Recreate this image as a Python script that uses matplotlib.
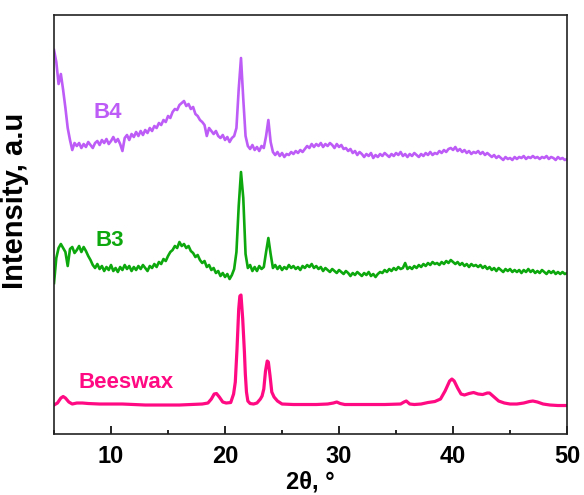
import numpy as np
import matplotlib
matplotlib.use("Agg")
import matplotlib.pyplot as plt
from matplotlib.ticker import MultipleLocator

plt.rcParams['font.family'] = ['Liberation Sans', 'DejaVu Sans']
plt.rcParams['font.weight'] = 'bold'

# 2theta scan grid for the two noisy patterns (0.2 deg step, 5..50)
theta_start, theta_step, n_pts = 5.0, 0.2, 226

# B4 intensities (offset, arbitrary units)
b4 = [384, 372, 350, 360, 344, 326, 306, 294, 284, 291,
      288, 291, 286, 290, 287, 292, 289, 286, 291, 293,
      289, 294, 291, 295, 290, 293, 297, 292, 295, 290,
      283, 296, 299, 294, 300, 297, 302, 298, 303, 299,
      304, 301, 306, 303, 308, 306, 311, 309, 314, 312,
      318, 316, 322, 325, 324, 329, 331, 333, 328, 330,
      325, 327, 320, 318, 314, 312, 309, 298, 306, 303,
      300, 303, 298, 296, 299, 294, 297, 292, 296, 298,
      306, 345, 376, 335, 298, 288, 285, 289, 284, 287,
      283, 288, 286, 298, 314, 292, 282, 279, 282, 278,
      281, 277, 280, 279, 282, 280, 283, 281, 284, 282,
      285, 288, 286, 290, 287, 290, 288, 291, 287, 290,
      288, 291, 289, 286, 290, 287, 289, 285, 286, 283,
      285, 281, 283, 279, 282, 280, 277, 280, 278, 281,
      276, 279, 277, 280, 278, 281, 279, 277, 280, 278,
      281, 279, 282, 278, 280, 277, 280, 278, 281, 279,
      277, 280, 278, 281, 279, 282, 279, 281, 280, 283,
      281, 284, 282, 285, 286, 284, 287, 283, 285, 282,
      284, 281, 283, 280, 282, 281, 283, 280, 282, 279,
      281, 279, 277, 279, 276, 278, 276, 274, 277, 275,
      276, 274, 277, 275, 277, 276, 278, 275, 277, 276,
      278, 276, 277, 275, 277, 276, 278, 275, 277, 276,
      274, 277, 275, 276, 274, 275]

# B3 intensities
b3 = [151, 176, 186, 190, 186, 182, 168, 185, 187, 181,
      184, 188, 182, 187, 183, 178, 174, 169, 166, 170,
      165, 168, 163, 167, 164, 169, 163, 166, 162, 167,
      164, 169, 165, 168, 163, 167, 164, 168, 165, 169,
      166, 163, 168, 166, 170, 167, 172, 170, 175, 173,
      178, 182, 184, 188, 186, 192, 188, 190, 186, 188,
      183, 181, 177, 179, 174, 171, 173, 167, 169, 164,
      166, 161, 163, 158, 161, 157, 160, 155, 159, 165,
      182, 228, 262, 236, 180, 166, 169, 163, 167, 163,
      168, 165, 167, 182, 196, 180, 166, 169, 165, 168,
      164, 167, 165, 169, 166, 168, 165, 167, 164, 168,
      166, 169, 167, 170, 166, 168, 165, 167, 163, 166,
      164, 162, 165, 163, 161, 164, 162, 160, 163, 161,
      158, 161, 159, 162, 160, 158, 161, 159, 162, 158,
      160, 157, 160, 162, 161, 164, 162, 165, 163, 166,
      164, 167, 165, 166, 171, 165, 167, 165, 168, 166,
      169, 167, 170, 168, 171, 169, 172, 170, 171, 169,
      172, 170, 173, 171, 174, 172, 170, 172, 169, 171,
      168, 170, 167, 170, 168, 169, 167, 169, 166, 168,
      165, 167, 164, 166, 163, 166, 164, 162, 165, 163,
      165, 162, 164, 162, 164, 161, 164, 162, 165, 162,
      164, 161, 163, 161, 164, 162, 160, 163, 161, 163,
      160, 162, 160, 162, 160, 161]

# Beeswax (smooth pattern)
wax_x = [5.0, 5.3, 5.6, 5.8, 6.0, 6.3, 6.6, 7.0, 7.5, 8.0, 9.0, 10.0, 11.0,
         12.0, 13.0, 14.0, 15.0, 16.0, 17.0, 18.0, 18.5, 18.8, 19.05, 19.25,
         19.5, 19.8, 20.1, 20.5, 20.75, 20.9, 21.05, 21.2, 21.3, 21.4, 21.55,
         21.7, 21.78, 21.88, 22.0, 22.2, 22.5, 22.8, 23.1, 23.25, 23.4, 23.55,
         23.7, 23.8, 23.95, 24.1, 24.3, 24.6, 25.0, 26.0, 27.0, 28.0, 29.0,
         29.5, 29.8, 30.1, 30.5, 32.0, 34.0, 35.4, 35.7, 35.9, 36.2, 36.6,
         37.2, 37.8, 38.4, 38.9, 39.3, 39.7, 39.9, 40.1, 40.4, 40.7, 41.0,
         41.4, 41.8, 42.2, 42.6, 43.0, 43.2, 43.6, 44.0, 44.5, 45.0, 45.6,
         46.2, 46.7, 47.0, 47.4, 47.9, 48.5, 49.2, 50.0]
wax_y = [29, 31, 36, 37.5, 36, 32, 30, 31, 31, 30.5, 30, 30, 30,
         29.5, 29, 29, 29, 29, 29.5, 30, 31, 35, 40, 40.5,
         37, 32, 31, 31.5, 40, 52, 85, 125, 138, 139, 115,
         82, 60, 42, 33, 30.5, 30, 31, 35, 38, 45, 63,
         73, 72, 58, 42, 37, 33, 30, 29.5, 29.5, 29.5, 30,
         31, 32, 30.5, 29.5, 29.5, 29.5, 30, 32, 33, 30, 29.5,
         30, 31.5, 32.5, 35, 43, 53, 55, 53, 46, 40, 39,
         40.5, 41.5, 40, 39.5, 41, 41, 37, 33, 31, 30, 30,
         31, 32.5, 33, 32, 30, 29, 28.5, 28.5]

two_theta = theta_start + theta_step * np.arange(n_pts)

c_b4 = '#BD5CF6'
c_b3 = '#0DA80D'
c_wax = '#FF0A82'

fig = plt.figure(figsize=(5.84, 4.95), dpi=100)
ax = fig.add_axes([0.0925, 0.1232, 0.8785, 0.8465])

ax.plot(two_theta, b4, color=c_b4, lw=1.9)
ax.plot(two_theta, b3, color=c_b3, lw=1.9)
ax.plot(wax_x, wax_y, color=c_wax, lw=2.3)

ax.text(9.75, 322, 'B4', color=c_b4, fontsize=16, fontweight='bold', ha='center', va='center')
ax.text(9.9, 194, 'B3', color=c_b3, fontsize=16, fontweight='bold', ha='center', va='center')
ax.text(11.3, 52, 'Beeswax', color=c_wax, fontsize=16, fontweight='bold', ha='center', va='center')

ax.set_xlim(5, 50)
ax.set_ylim(0, 419)
ax.xaxis.set_major_locator(MultipleLocator(10))
ax.xaxis.set_minor_locator(MultipleLocator(5))
ax.set_yticks([])
ax.tick_params(axis='x', which='major', direction='in', length=6, width=1.2,
               labelsize=17, pad=8)
ax.tick_params(axis='x', which='minor', direction='in', length=3, width=1.2)
for lbl in ax.get_xticklabels():
    lbl.set_fontweight('bold')
for s in ax.spines.values():
    s.set_linewidth(1.2)
    s.set_color('#222222')

ax.set_xlabel('2θ, °', fontsize=17, fontweight='bold', labelpad=2)
ax.set_ylabel('Intensity, a.u', fontsize=21, fontweight='bold')
ax.yaxis.set_label_coords(-0.048, 0.556)

fig.savefig('out.png', dpi=100)
